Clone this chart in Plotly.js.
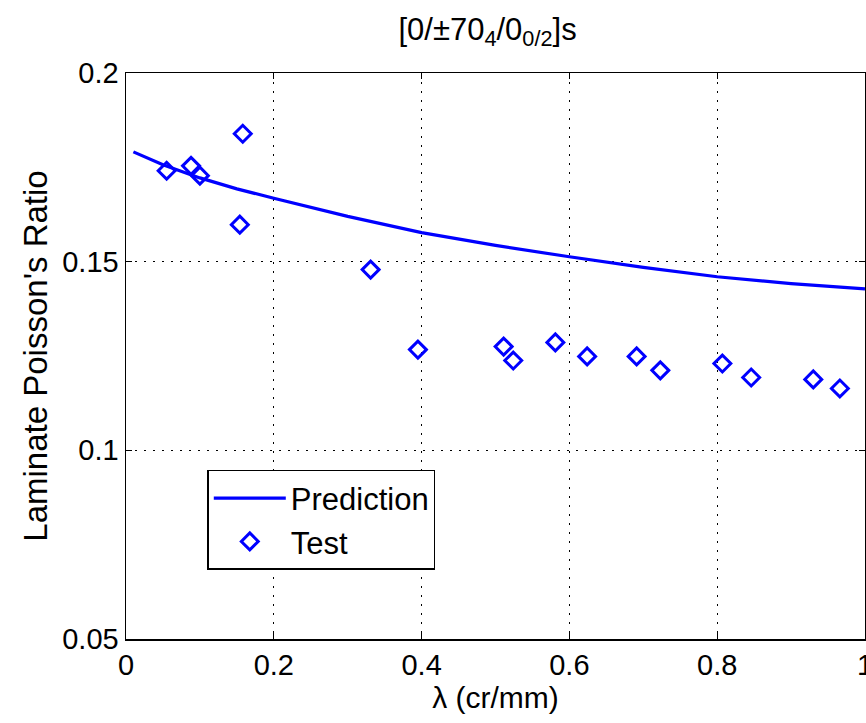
<!DOCTYPE html>
<html>
<head>
<meta charset="utf-8">
<script src="https://cdn.plot.ly/plotly-3.0.1.min.js"></script>
<style>html,body{margin:0;padding:0;background:#fff;}#chart{width:866px;height:723px;}</style>
</head>
<body>
<div id="chart"></div>
<script>
// Prediction curve
const predX = [0.01, 0.05, 0.1, 0.15, 0.2, 0.3, 0.4, 0.5, 0.6, 0.7, 0.8, 0.9, 1.0];
const predY = [0.1791, 0.1757, 0.1722, 0.1693, 0.1668, 0.1620, 0.1577, 0.1543, 0.1513, 0.1485, 0.1460, 0.1442, 0.1428];
// Test points
const testX = [0.055, 0.088, 0.100, 0.158, 0.154, 0.331, 0.395, 0.511, 0.524, 0.581, 0.624, 0.691, 0.723, 0.807, 0.846, 0.930, 0.966];
const testY = [0.1741, 0.1754, 0.1728, 0.1839, 0.1598, 0.1479, 0.1267, 0.1275, 0.1238, 0.1286, 0.1249, 0.1249, 0.1212, 0.1230, 0.1193, 0.1188, 0.1164];
const xTicks = [0, 0.2, 0.4, 0.6, 0.8, 1];
const xTickText = ['0', '0.2', '0.4', '0.6', '0.8', '1'];
const yTicks = [0.05, 0.1, 0.15, 0.2];
const yTickText = ['0.05', '0.1', '0.15', '0.2'];

const font = 'Liberation Sans, Arial, Helvetica, sans-serif';

const traces = [
  {x: predX, y: predY, type: 'scatter', mode: 'lines', name: 'Prediction',
   line: {color: '#0000ff', width: 3.2}},
  {x: testX, y: testY, type: 'scatter', mode: 'markers', name: 'Test',
   marker: {symbol: 'diamond-open', size: 13, color: '#0000ff', line: {width: 3, color: '#0000ff'}}}
];

const axisCommon = {
  showline: true, mirror: 'ticks', linecolor: '#000', linewidth: 1.5,
  ticks: 'inside', ticklen: 6, tickcolor: '#000', tickwidth: 1,
  showgrid: true, gridcolor: '#000', griddash: '2px,7px', gridwidth: 1.3,
  zeroline: false, tickfont: {family: font, size: 29, color: '#000'}
};

const layout = {
  width: 866, height: 723,
  margin: {l: 126, r: 1, t: 73, b: 84},
  paper_bgcolor: '#fff', plot_bgcolor: '#fff',
  font: {family: font, color: '#000'},
  title: {text: '[0/±70<sub>4</sub>/0<sub>0/2</sub>]s', font: {family: font, size: 31, color: '#000'},
          x: 0.563, xanchor: 'center', y: 0.96, yref: 'container', yanchor: 'middle'},
  xaxis: Object.assign({}, axisCommon, {
    range: [0, 1], tickvals: xTicks, ticktext: xTickText, ticklabeloverflow: 'allow',
    title: {text: 'λ (cr/mm)', font: {family: font, size: 30, color: '#000'}, standoff: 2}
  }),
  yaxis: Object.assign({}, axisCommon, {
    range: [0.05, 0.2], tickvals: yTicks, ticktext: yTickText,
    title: {text: "Laminate Poisson's Ratio", font: {family: font, size: 33, color: '#000'}, standoff: 4}
  }),
  showlegend: true,
  legend: {x: 0.11, y: 0.2986, xanchor: 'left', yanchor: 'top',
           bgcolor: '#fff', bordercolor: '#000', borderwidth: 1.5,
           font: {family: font, size: 31, color: '#000'}, itemwidth: 72,
           tracegroupgap: 0}
};

Plotly.newPlot('chart', traces, layout, {displayModeBar: false, staticPlot: true});
</script>
</body>
</html>
